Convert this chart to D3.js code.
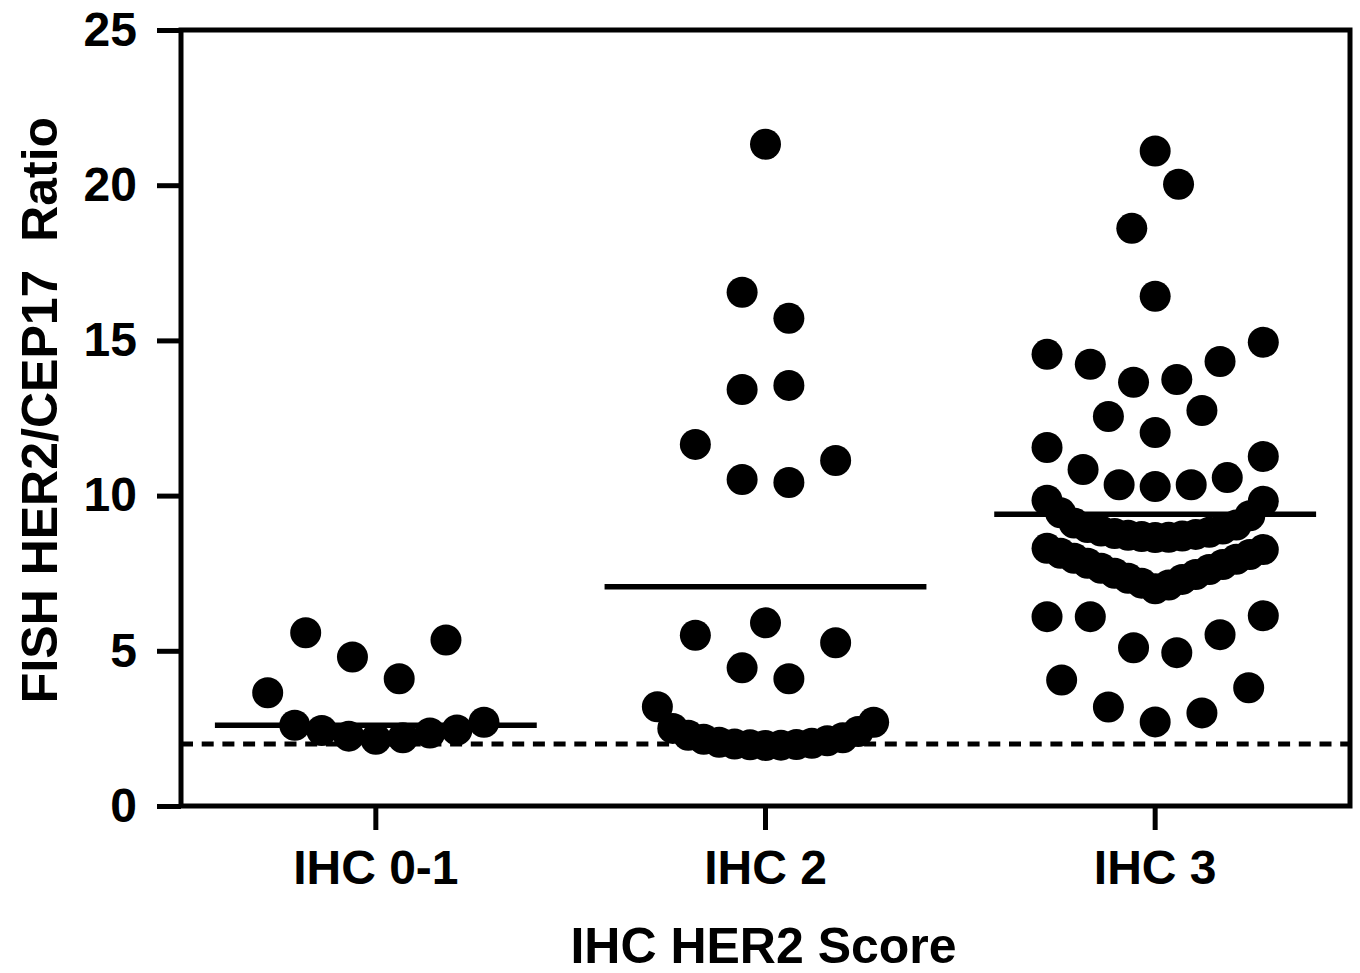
<!DOCTYPE html>
<html><head><meta charset="utf-8">
<script src="https://cdn.jsdelivr.net/npm/d3@7"></script>
<style>body{margin:0;background:#fff}</style>
</head><body><svg id="c" width="1360" height="973"></svg>
<script>
// ---- data ----
const categories = ["IHC 0-1", "IHC 2", "IHC 3"];
const ihc01 = [2.15, 2.2, 2.25, 2.35, 2.43, 2.45, 2.6, 2.7, 3.65,
  4.1, 4.8, 5.35, 5.58];
const ihc2 = [1.95, 1.96, 1.97, 1.98, 2.0, 2.02, 2.05, 2.1, 2.15, 2.2, 2.28, 2.4, 2.5, 2.7, 3.2,
  4.1, 4.45, 5.26, 5.5,
  5.9,
  10.42, 10.52, 11.13, 11.65,
  13.55, 13.42,
  15.71, 16.55,
  21.32];
const ihc3 = [2.71, 3.0, 3.19, 3.81, 4.06,
  4.94, 5.1, 5.52, 6.1, 6.13, 6.1,
  7.0, 7.12, 7.18, 7.3, 7.34, 7.46, 7.5, 7.62, 7.66, 7.78, 7.82, 7.95, 7.98, 8.1, 8.14, 8.26, 8.3,
  8.65, 8.66, 8.68, 8.7, 8.72, 8.75, 8.78, 8.82, 8.86, 8.92, 8.97, 9.05, 9.12, 9.35, 9.45, 9.82, 9.85,
  10.29, 10.35, 10.35, 10.58, 10.84, 11.26, 11.55,
  12.03, 12.74, 12.55,
  13.74, 13.65, 14.32, 14.23, 14.94, 14.55,
  16.42,
  20.03, 18.61,
  21.1];
const groupMeans = [2.6, 7.06, 9.4];
const yTicks = [0, 5, 10, 15, 20, 25];
const cutoff = [2];
const yTitle = "FISH HER2/CEP17  Ratio";
const xTitle = "IHC HER2 Score";

// ---- layout ----
const svg = d3.select("#c");
const L = 181, R = 1350, T = 30, B = 806;
const FONT = "'Liberation Sans', Arial, sans-serif";

const x = d3.scaleBand().domain(categories).range([L, R]).padding(0);
const y = d3.scaleLinear().domain([0, 25]).range([B, T]);
const bw = x.bandwidth();
const ROW_SPAN = 1.55;           // data units grouped into one row
const maxStep = 0.12 * bw;       // max horizontal spacing of points
const maxWidth = 0.555 * bw;     // max row width

function scatterLayout(values) {
  const idx = values.map((v, i) => ({v, i})).sort((a, b) => a.v - b.v || a.i - b.i);
  const rows = []; let cur = null;
  for (const p of idx) {
    if (!cur || p.v - cur.start >= ROW_SPAN) { cur = {start: p.v, pts: []}; rows.push(cur); }
    cur.pts.push(p);
  }
  const out = [];
  rows.forEach(r => {
    const pts = r.pts.sort((a, b) => a.i - b.i);
    const n = pts.length;
    const step = n > 1 ? Math.min(maxStep, maxWidth / (n - 1)) : 0;
    pts.forEach((p, k) => {
      let slot;
      if (n % 2 === 1) {
        if (k === 0) slot = 0; else { const m = Math.ceil(k / 2); slot = (k % 2 === 1) ? m : -m; }
      } else {
        const m = Math.floor(k / 2) + 0.5; slot = (k % 2 === 0) ? m : -m;
      }
      out.push({v: p.v, dx: slot * step});
    });
  });
  return out;
}

const groups = [ihc01, ihc2, ihc3];

// cutoff dashed line
svg.selectAll("line.cut").data(cutoff).join("line").attr("class", "cut")
  .attr("x1", L).attr("x2", R).attr("y1", d => y(d)).attr("y2", d => y(d))
  .attr("stroke", "#000").attr("stroke-width", 5).attr("stroke-dasharray", "12,8.7");

// points
groups.forEach((vals, gi) => {
  const cx = x(categories[gi]) + bw / 2;
  svg.append("g").selectAll("circle").data(scatterLayout(vals)).join("circle")
    .attr("cx", d => cx + d.dx).attr("cy", d => y(d.v)).attr("r", 15.5).attr("fill", "#000");
});

// mean lines
svg.selectAll("line.mean").data(groupMeans).join("line").attr("class", "mean")
  .attr("x1", (d, i) => x(categories[i]) + bw / 2 - 0.413 * bw)
  .attr("x2", (d, i) => x(categories[i]) + bw / 2 + 0.413 * bw)
  .attr("y1", d => y(d)).attr("y2", d => y(d))
  .attr("stroke", "#000").attr("stroke-width", 5.5);

// frame
svg.append("rect").attr("x", L).attr("y", T).attr("width", R - L).attr("height", B - T)
  .attr("fill", "none").attr("stroke", "#000").attr("stroke-width", 5);

// axes
const ya = svg.append("g").attr("transform", `translate(${L},0)`)
  .call(d3.axisLeft(y).tickValues(yTicks).tickSize(24).tickPadding(20).tickFormat(d3.format("d")));
const xa = svg.append("g").attr("transform", `translate(0,${B})`)
  .call(d3.axisBottom(x).tickSize(24).tickPadding(20));
[ya, xa].forEach(a => {
  a.select(".domain").remove();
  a.selectAll(".tick line").attr("stroke", "#000").attr("stroke-width", 5);
  a.selectAll(".tick text").attr("fill", "#000").style("font-family", FONT)
    .style("font-weight", "bold").style("font-size", "48px");
});

// titles
svg.append("text").attr("x", (L + R) / 2 - 2).attr("y", 963).attr("text-anchor", "middle")
  .style("font-family", FONT).style("font-weight", "bold").style("font-size", "50px").text(xTitle);
svg.append("text").attr("transform", "translate(57,410) rotate(-90)").attr("text-anchor", "middle")
  .style("font-family", FONT).style("font-weight", "bold").style("font-size", "50px")
  .style("white-space", "pre").text(yTitle);
</script>
</body></html>
